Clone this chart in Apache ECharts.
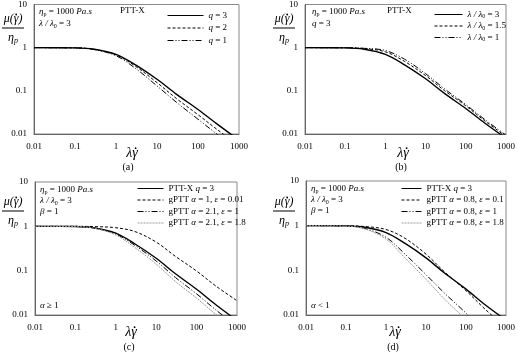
<!DOCTYPE html>
<html>
<head>
<meta charset="utf-8">
<script src="https://cdn.jsdelivr.net/npm/echarts@6/dist/echarts.min.js"></script>
<style>
  html, body { margin: 0; padding: 0; background: #fff; }
  #chart { width: 518px; height: 352px; }
</style>
</head>
<body>
<div id="chart"></div>
<script>
// shear rate points (λγ̇) and viscosity ratio μ/η_p
const shear = [0.01, 0.1, 0.3, 1, 3, 10, 30, 100, 300, 1000];
const xTicks = ["0.01", "0.1", "1", "10", "100", "1000"];
const yTicks = ["0.01", "0.1", "1", "10"];

// (a) PTT-X, varying q
const aQ3 = [1, 0.99, 0.92, 0.70, 0.40, 0.185, 0.083, 0.037, 0.0167, 0.0072];
const aQ2 = [1, 0.99, 0.91, 0.68, 0.37, 0.155, 0.066, 0.028, 0.0125, 0.0053];
const aQ1 = [1, 0.99, 0.90, 0.65, 0.33, 0.13, 0.054, 0.022, 0.0097, 0.0042];

// (b) PTT-X, varying λ/λ0
const bL3 = [1, 0.99, 0.92, 0.70, 0.40, 0.19, 0.086, 0.039, 0.0178, 0.008];
const bL15 = [1, 0.995, 0.95, 0.80, 0.48, 0.225, 0.1, 0.045, 0.02, 0.0088];
const bL1 = [1, 0.997, 0.965, 0.86, 0.54, 0.25, 0.11, 0.048, 0.0215, 0.0094];

// (c) alpha >= 1
const cPtt = [1, 0.99, 0.92, 0.70, 0.40, 0.19, 0.085, 0.038, 0.017, 0.0075];
const cE001 = [1, 1, 0.985, 0.93, 0.76, 0.44, 0.21, 0.098, 0.045, 0.021];
const cE1 = [1, 0.99, 0.91, 0.67, 0.37, 0.165, 0.07, 0.03, 0.013, 0.0056];
const cE18 = [1, 0.99, 0.90, 0.64, 0.33, 0.14, 0.057, 0.024, 0.0103, 0.0044];

// (d) alpha < 1
const dPtt = [1, 0.99, 0.92, 0.70, 0.40, 0.19, 0.085, 0.038, 0.017, 0.0077];
const dE01 = [1, 0.995, 0.955, 0.82, 0.52, 0.23, 0.09, 0.035, 0.0135, 0.0052];
const dE1 = [1, 0.98, 0.86, 0.55, 0.23, 0.08, 0.03, 0.011, 0.004, 0.0014];
const dE18 = [1, 0.975, 0.84, 0.50, 0.19, 0.063, 0.022, 0.0078, 0.0027, 0.0009];

const serif = "Liberation Serif";

const pts = (ys) => shear.map((x, i) => [x, ys[i]]);

const line = (name, idx, ys, style) => ({
  name: name,
  type: "line",
  xAxisIndex: idx,
  yAxisIndex: idx,
  data: pts(ys),
  smooth: 0.35,
  symbol: "none",
  clip: true,
  lineStyle: Object.assign({ color: "#000", width: 1, type: "solid" }, style),
  itemStyle: { color: style && style.color ? style.color : "#000" },
});

const SOLID = { width: 1.4 };
const DASH = { type: [3, 2] };
const DASHDOT = { type: [6, 2, 1, 2, 1, 2] };
const GRAY = { color: "#9a9a9a", type: [2, 1] };

const grids = [
  { left: 34, top: 4, width: 205, height: 130 },
  { left: 305, top: 4, width: 202, height: 130 },
  { left: 35, top: 182, width: 202, height: 133 },
  { left: 306, top: 181, width: 201, height: 134 },
].map((g) => Object.assign({ show: true, borderColor: "#8a8a8a", borderWidth: 1 }, g));

const xAxes = grids.map((g, i) => ({
  type: "log",
  logBase: 10,
  gridIndex: i,
  min: 0.01,
  max: 1000,
  axisLine: { show: true, lineStyle: { color: "#666" } },
  axisTick: { show: false },
  splitLine: { show: false },
  axisLabel: {
    color: "#000",
    fontFamily: serif,
    fontSize: 9,
    margin: 8,
    formatter: (v, k) => xTicks[k],
  },
}));

const yAxes = grids.map((g, i) => ({
  type: "log",
  logBase: 10,
  gridIndex: i,
  min: 0.01,
  max: 10,
  axisLine: { show: true, lineStyle: { color: "#666" } },
  axisTick: { show: false },
  splitLine: { show: false },
  axisLabel: {
    color: "#000",
    fontFamily: serif,
    fontSize: 9,
    margin: 7,
    formatter: (v, k) => yTicks[k],
  },
}));

const rich = {
  i: { fontStyle: "italic", fontFamily: serif, fontSize: 9, color: "#000" },
  s: { fontFamily: serif, fontSize: 6, color: "#000", verticalAlign: "bottom", padding: [4, 0, 0, 0] },
  n: { fontFamily: serif, fontSize: 9, color: "#000" },
};

const legendLabels = {
  "q = 3": "{i|q} {n|= 3}",
  "q = 2": "{i|q} {n|= 2}",
  "q = 1": "{i|q} {n|= 1}",
  "λ/λ0 = 3": "{i|λ / λ}{s|0}{n| = 3}",
  "λ/λ0 = 1.5": "{i|λ / λ}{s|0}{n| = 1.5}",
  "λ/λ0 = 1": "{i|λ / λ}{s|0}{n| = 1}",
  "PTT-X q = 3": "{n|PTT-X }{i|q}{n| = 3}",
  "gPTT α=1, ε=0.01": "{n|gPTT }{i|α}{n| = 1, }{i|ε}{n| = 0.01}",
  "gPTT α=2.1, ε=1": "{n|gPTT }{i|α}{n| = 2.1, }{i|ε}{n| = 1}",
  "gPTT α=2.1, ε=1.8": "{n|gPTT }{i|α}{n| = 2.1, }{i|ε}{n| = 1.8}",
  "gPTT α=0.8, ε=0.1": "{n|gPTT }{i|α}{n| = 0.8, }{i|ε}{n| = 0.1}",
  "gPTT α=0.8, ε=1": "{n|gPTT }{i|α}{n| = 0.8, }{i|ε}{n| = 1}",
  "gPTT α=0.8, ε=1.8": "{n|gPTT }{i|α}{n| = 0.8, }{i|ε}{n| = 1.8}",
};

const legend = (names, left, top, w, gap) => ({
  data: names,
  orient: "vertical",
  left: left,
  top: top,
  itemWidth: w,
  itemHeight: 8,
  itemGap: gap,
  padding: 0,
  selectedMode: false,
  itemStyle: { opacity: 0 },
  lineStyle: { width: 1 },
  formatter: (n) => legendLabels[n],
  textStyle: { fontFamily: serif, fontSize: 9, color: "#000", rich: rich },
});

// small helpers for text drawn on top
const txt = (x, y, text, extra) => ({
  type: "text",
  x: x,
  y: y,
  style: Object.assign({ text: text, fill: "#000", font: "8px " + serif, rich: rich }, extra),
});

const dot = (x, y) => ({ type: "circle", shape: { cx: x, cy: y, r: 0.9 }, style: { fill: "#000" } });

const bigRich = {
  g: { fontStyle: "italic", fontFamily: serif, fontSize: 12, color: "#000" },
  h: { fontStyle: "italic", fontFamily: serif, fontSize: 14, color: "#000" },
  p: { fontStyle: "italic", fontFamily: serif, fontSize: 8, color: "#000", padding: [6, 0, 0, 0] },
};

// μ(γ̇) over η_p, drawn as a small fraction
const fracLabel = (cx, top) => [
  txt(cx, top, "{g|μ(γ)}", { align: "center", rich: bigRich }),
  dot(cx + 3.2, top + 1.5),
  { type: "line", shape: { x1: cx - 11, y1: top + 15, x2: cx + 11, y2: top + 15 }, style: { stroke: "#000", lineWidth: 1 } },
  txt(cx, top + 18, "{g|η}{p|p}", { align: "center", rich: bigRich }),
];

// λγ̇ axis title
const xTitle = (cx, top) => [
  txt(cx, top, "{h|λγ}", { align: "center", rich: bigRich }),
  dot(cx + 3.6, top + 2.2),
];

const etaText = "{i|η}{s|p}{n| = 1000 }{i|Pa.s}";
const lamText = "{i|λ / λ}{s|0}{n| = 3}";

const graphics = [
  // (a)
  ...fracLabel(13, 13),
  txt(39, 7, etaText),
  txt(39, 19, lamText),
  txt(120, 6, "PTT-X", { font: "9px " + serif }),
  ...xTitle(132, 146),
  txt(128, 162, "(a)", { align: "center", font: "10px " + serif }),
  // (b)
  ...fracLabel(284, 13),
  txt(312, 7, etaText),
  txt(312, 19, "{i|q}{n| = 3}"),
  txt(387, 6, "PTT-X", { font: "9px " + serif }),
  ...xTitle(403, 146),
  txt(401, 162, "(b)", { align: "center", font: "10px " + serif }),
  // (c)
  ...fracLabel(13, 196),
  txt(40, 185, etaText),
  txt(40, 196, lamText),
  txt(40, 207, "{i|β}{n| = 1}"),
  txt(40, 301, "{i|α}{n| ≥ 1}"),
  ...xTitle(131, 325),
  txt(129, 342, "(c)", { align: "center", font: "10px " + serif }),
  // (d)
  ...fracLabel(284, 196),
  txt(311, 184, etaText),
  txt(311, 195, lamText),
  txt(311, 206, "{i|β}{n| = 1}"),
  txt(311, 301, "{i|α}{n| < 1}"),
  ...xTitle(395, 325),
  txt(393, 342, "(d)", { align: "center", font: "10px " + serif }),
];

const series = [
  line("q = 3", 0, aQ3, SOLID),
  line("q = 2", 0, aQ2, DASH),
  line("q = 1", 0, aQ1, DASHDOT),
  line("λ/λ0 = 3", 1, bL3, SOLID),
  line("λ/λ0 = 1.5", 1, bL15, DASH),
  line("λ/λ0 = 1", 1, bL1, DASHDOT),
  line("PTT-X q = 3", 2, cPtt, SOLID),
  line("gPTT α=1, ε=0.01", 2, cE001, DASH),
  line("gPTT α=2.1, ε=1", 2, cE1, DASHDOT),
  line("gPTT α=2.1, ε=1.8", 2, cE18, GRAY),
  line("PTT-X q = 3", 3, dPtt, SOLID),
  line("gPTT α=0.8, ε=0.1", 3, dE01, DASH),
  line("gPTT α=0.8, ε=1", 3, dE1, DASHDOT),
  line("gPTT α=0.8, ε=1.8", 3, dE18, GRAY),
];

const chart = echarts.init(document.getElementById("chart"), null, { renderer: "canvas" });
chart.setOption({
  animation: false,
  backgroundColor: "#fff",
  grid: grids,
  xAxis: xAxes,
  yAxis: yAxes,
  legend: [
    legend(["q = 3", "q = 2", "q = 1"], 167, 11, 36, 3.5),
    legend(["λ/λ0 = 3", "λ/λ0 = 1.5", "λ/λ0 = 1"], 434, 10, 28, 2),
    legend(["PTT-X q = 3", "gPTT α=1, ε=0.01", "gPTT α=2.1, ε=1", "gPTT α=2.1, ε=1.8"], 137, 184, 26, 2.5),
    legend(["PTT-X q = 3", "gPTT α=0.8, ε=0.1", "gPTT α=0.8, ε=1", "gPTT α=0.8, ε=1.8"], 401, 184, 20, 2.5),
  ],
  graphic: graphics,
  series: series,
});
</script>
</body>
</html>
